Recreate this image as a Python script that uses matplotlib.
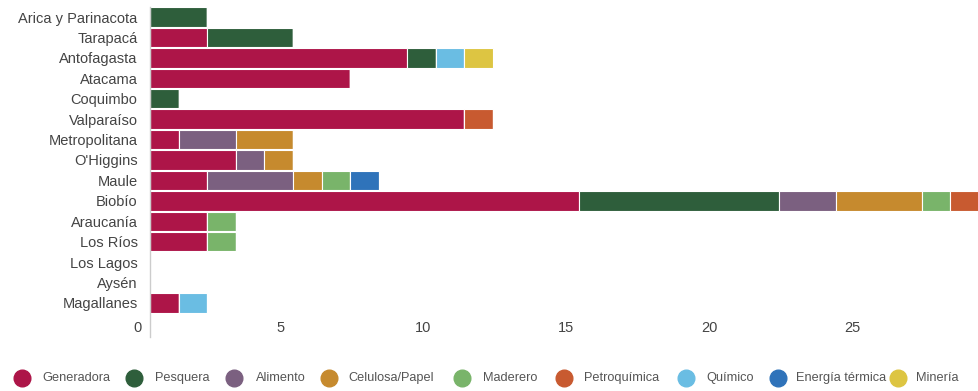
import matplotlib.pyplot as plt
from matplotlib.lines import Line2D

regions = ['Arica y Parinacota', 'Tarapacá', 'Antofagasta', 'Atacama', 'Coquimbo',
           'Valparaíso', 'Metropolitana', "O'Higgins", 'Maule', 'Biobío',
           'Araucanía', 'Los Ríos', 'Los Lagos', 'Aysén', 'Magallanes']

series = ['Generadora', 'Pesquera', 'Alimento', 'Celulosa/Papel', 'Maderero',
          'Petroquímica', 'Químico', 'Energía térmica', 'Minería']
colors = ['#ad1548', '#2e5e3b', '#7b6080', '#c68a2e', '#79b46a',
          '#c85a30', '#6abde3', '#2f73ba', '#ddc542']

generadora = [0, 2, 9, 7, 0, 11, 1, 3, 2, 15, 2, 2, 0, 0, 1]
pesquera = [2, 3, 1, 0, 1, 0, 0, 0, 0, 7, 0, 0, 0, 0, 0]
alimento = [0, 0, 0, 0, 0, 0, 2, 1, 3, 2, 0, 0, 0, 0, 0]
celulosa = [0, 0, 0, 0, 0, 0, 2, 1, 1, 3, 0, 0, 0, 0, 0]
maderero = [0, 0, 0, 0, 0, 0, 0, 0, 1, 1, 1, 1, 0, 0, 0]
petroquimica = [0, 0, 0, 0, 0, 1, 0, 0, 0, 1, 0, 0, 0, 0, 0]
quimico = [0, 0, 1, 0, 0, 0, 0, 0, 0, 0, 0, 0, 0, 0, 1]
energia = [0, 0, 0, 0, 0, 0, 0, 0, 1, 0, 0, 0, 0, 0, 0]
mineria = [0, 0, 1, 0, 0, 0, 0, 0, 0, 0, 0, 0, 0, 0, 0]

values = [generadora, pesquera, alimento, celulosa, maderero,
          petroquimica, quimico, energia, mineria]
xticks = [0, 5, 10, 15, 20, 25]

plt.rcParams['font.family'] = ['Liberation Sans', 'DejaVu Sans']

fig = plt.figure(figsize=(9.79, 3.91), dpi=100)
ax = fig.add_axes([150 / 979, 1 - 316 / 391, 1 - 150 / 979, 309 / 391])

y = list(range(len(regions)))
left = [0] * len(regions)
for name, col, vals in zip(series, colors, values):
    ax.barh(y, vals, left=left, height=0.95, color=col,
            edgecolor='white', linewidth=0.8, label=name)
    left = [a + b for a, b in zip(left, vals)]

ax.set_xlim(0, 29)
ax.set_ylim(14.64, -0.49)
ax.set_yticks(y)
ax.set_yticklabels(regions, fontsize=10.5, color='#444444')
ax.tick_params(axis='y', length=0, pad=9)
ax.set_xticks([])
for v in xticks:
    ax.annotate(str(v), xy=(v, 0), xycoords=('data', 'axes fraction'),
                xytext=(-9, -9), textcoords='offset points',
                ha='center', va='center', fontsize=10.5, color='#444444')

for s in ['top', 'right', 'bottom', 'left']:
    ax.spines[s].set_visible(False)
ax.plot([0, 0], [-0.068, 1], transform=ax.transAxes, color='#cccccc',
        linewidth=1, clip_on=False)

# legend drawn by hand
circle_x = [22, 134, 234, 329, 462, 564, 686, 778, 898]
text_x = [42, 155, 256, 348, 483, 584, 706, 796, 916]
ly = 1 - 378 / 391
for name, col, cx, tx in zip(series, colors, circle_x, text_x):
    fig.add_artist(Line2D([cx / 979], [ly], marker='o', markersize=12,
                          color=col, transform=fig.transFigure))
    fig.text(tx / 979, ly, name, fontsize=9.2, color='#555555',
             ha='left', va='center')

plt.savefig('out.png', dpi=100)
